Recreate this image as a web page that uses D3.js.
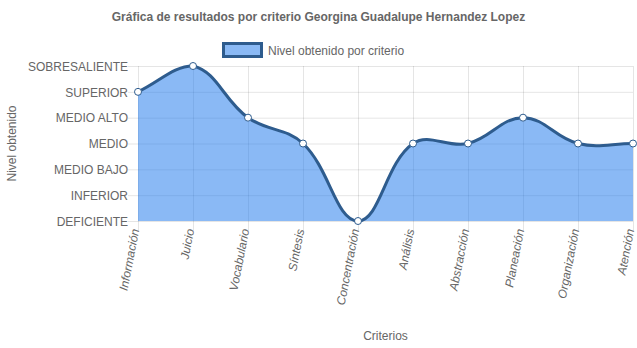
<!DOCTYPE html>
<html>
<head>
<meta charset="utf-8">
<script src="https://cdn.jsdelivr.net/npm/d3@7"></script>
<style>
  html, body { margin: 0; padding: 0; background: #fff; }
  svg { display: block; font-family: "Liberation Sans", Arial, Helvetica, sans-serif; }
</style>
</head>
<body>
<svg id="chart" width="637" height="348"></svg>
<script>
// Criteria evaluated and the level reached on each one
const criterios = ["Información", "Juicio", "Vocabulario", "Síntesis", "Concentración",
                   "Análisis", "Abstracción", "Planeación", "Organización", "Atención"];
const niveles = ["DEFICIENTE", "INFERIOR", "MEDIO BAJO", "MEDIO", "MEDIO ALTO", "SUPERIOR", "SOBRESALIENTE"];
const valores = [5, 6, 4, 3, 0, 3, 3, 4, 3, 3];

const titulo = "Gráfica de resultados por criterio Georgina Guadalupe Hernandez Lopez";
const leyenda = "Nivel obtenido por criterio";

const svg = d3.select("#chart");
const area = { left: 138, right: 633, top: 66, bottom: 221 };
const textColor = "#666";
const gridColor = "rgba(0,0,0,0.1)";
const lineColor = "#2e5c8e";
const fillColor = "rgba(30,120,235,0.52)";

const x = d3.scalePoint().domain(criterios).range([area.left, area.right]);
const y = d3.scaleLinear().domain([0, niveles.length - 1]).range([area.bottom, area.top]);

// Title
svg.append("text")
  .attr("x", 318.5).attr("y", 21)
  .attr("text-anchor", "middle")
  .attr("font-size", 12).attr("font-weight", "bold")
  .attr("fill", textColor)
  .text(titulo);

// Legend
svg.append("rect")
  .attr("x", 223.5).attr("y", 43.5).attr("width", 38).attr("height", 13)
  .attr("fill", fillColor).attr("stroke", lineColor).attr("stroke-width", 3);
svg.append("text")
  .attr("x", 268).attr("y", 54.5)
  .attr("font-size", 12).attr("fill", textColor)
  .text(leyenda);

// Horizontal grid + y axis
const yAxis = d3.axisLeft(y)
  .tickValues(d3.range(niveles.length))
  .tickFormat(i => niveles[i])
  .tickSize(10).tickPadding(0);
const gy = svg.append("g").attr("transform", `translate(${area.left},0)`).call(yAxis);
gy.select(".domain").remove();
gy.selectAll(".tick line").attr("stroke", gridColor);
gy.selectAll(".tick text").attr("fill", textColor).attr("font-size", 12).attr("font-family", null).attr("dy", "0.35em");
gy.selectAll(".tick").append("line")
  .attr("x1", 0).attr("x2", area.right - area.left)
  .attr("stroke", gridColor);

// Vertical grid + x axis
const xAxis = d3.axisBottom(x).tickSize(10).tickFormat("");
const gx = svg.append("g").attr("transform", `translate(0,${area.bottom})`).call(xAxis);
gx.select(".domain").remove();
gx.selectAll(".tick line").attr("stroke", gridColor);
gx.selectAll(".tick").append("line")
  .attr("y1", 0).attr("y2", -(area.bottom - area.top))
  .attr("stroke", gridColor);
gx.selectAll(".tick").append("text")
  .attr("transform", "translate(-3,8) rotate(-79)")
  .attr("text-anchor", "end")
  .attr("dy", "0.32em")
  .attr("font-size", 12).attr("fill", textColor)
  .attr("font-style", "italic")
  .text(d => d);

// Axis titles
svg.append("text")
  .attr("transform", `translate(16,${(area.top + area.bottom) / 2}) rotate(-90)`)
  .attr("text-anchor", "middle")
  .attr("font-size", 12).attr("fill", textColor)
  .text("Nivel obtenido");
svg.append("text")
  .attr("x", (area.left + area.right) / 2).attr("y", 340)
  .attr("text-anchor", "middle")
  .attr("font-size", 12).attr("fill", textColor)
  .text("Criterios");

// Smooth curve with tension-based bezier control points
const pts = valores.map((v, i) => ({ x: x(criterios[i]), y: y(v) }));
const tension = 0.4;
const clamp = (v, lo, hi) => Math.max(lo, Math.min(hi, v));
pts.forEach((p, i) => {
  const prev = pts[i - 1] || p, next = pts[i + 1] || p;
  const d01 = Math.hypot(p.x - prev.x, p.y - prev.y);
  const d12 = Math.hypot(next.x - p.x, next.y - p.y);
  let s01 = d01 / (d01 + d12), s12 = d12 / (d01 + d12);
  if (isNaN(s01)) s01 = 0;
  if (isNaN(s12)) s12 = 0;
  const fa = tension * s01, fb = tension * s12;
  p.cpPrev = { x: clamp(p.x - fa * (next.x - prev.x), area.left, area.right),
               y: clamp(p.y - fa * (next.y - prev.y), area.top, area.bottom) };
  p.cpNext = { x: clamp(p.x + fb * (next.x - prev.x), area.left, area.right),
               y: clamp(p.y + fb * (next.y - prev.y), area.top, area.bottom) };
});

function curvePath(ctx) {
  ctx.moveTo(pts[0].x, pts[0].y);
  for (let i = 1; i < pts.length; i++) {
    const a = pts[i - 1], b = pts[i];
    ctx.bezierCurveTo(a.cpNext.x, a.cpNext.y, b.cpPrev.x, b.cpPrev.y, b.x, b.y);
  }
  return ctx;
}

const fillPath = curvePath(d3.path());
fillPath.lineTo(pts[pts.length - 1].x, y(0));
fillPath.lineTo(pts[0].x, y(0));
fillPath.closePath();
svg.append("path").attr("d", fillPath.toString()).attr("fill", fillColor);

svg.append("path")
  .attr("d", curvePath(d3.path()).toString())
  .attr("fill", "none").attr("stroke", lineColor).attr("stroke-width", 3);

svg.append("g").selectAll("circle")
  .data(valores)
  .join("circle")
  .attr("cx", (d, i) => x(criterios[i]))
  .attr("cy", d => y(d))
  .attr("r", 3.5)
  .attr("fill", "#fff").attr("stroke", lineColor).attr("stroke-width", 1);
</script>
</body>
</html>
